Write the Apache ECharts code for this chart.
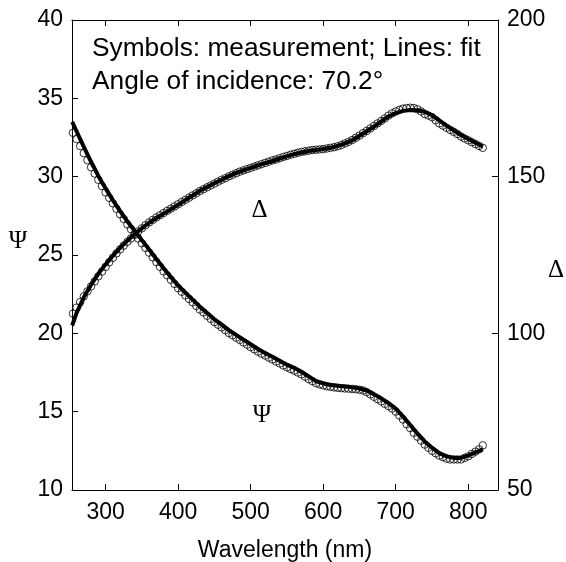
<!DOCTYPE html>
<html>
<head>
<meta charset="utf-8">
<script src="https://cdn.jsdelivr.net/npm/echarts@6/dist/echarts.min.js"></script>
<style>
html,body{margin:0;padding:0;background:#fff;}
#chart{width:566px;height:562px;}
</style>
</head>
<body>
<div id="chart"></div>
<script>
// Wavelengths (nm) for the fitted lines
var fitWavelength = [254,260,270,280,290,300,310,320,330,340,350,360,370,380,390,400,410,420,430,440,450,460,470,480,490,500,510,520,530,540,550,560,570,580,590,600,610,620,630,640,650,660,670,680,690,700,710,720,730,740,750,760,770,780,790,800,810,820];
// Psi fit (left axis, degrees)
var psiFit = [33.5,32.9,31.9,30.95,30.05,29.25,28.5,27.8,27.15,26.55,25.95,25.35,24.75,24.15,23.6,23.05,22.6,22.15,21.7,21.3,20.9,20.55,20.2,19.9,19.6,19.3,19.0,18.75,18.5,18.25,18.0,17.8,17.55,17.25,16.95,16.8,16.7,16.65,16.6,16.55,16.48,16.35,16.12,15.85,15.55,15.2,14.7,14.15,13.6,13.1,12.7,12.35,12.15,12.05,12.05,12.2,12.4,12.6];
// Delta fit (right axis, degrees)
var deltaFit = [102.5,106.5,111.5,115.5,119,122,124.8,127.3,129.6,131.6,133.5,135.3,136.8,138.2,139.6,141,142.5,144,145.5,146.7,147.9,149,150.2,151.2,152.0,152.8,153.6,154.3,155.0,155.8,156.5,157.2,157.7,158.2,158.5,158.8,159.2,159.8,160.6,161.6,163.0,164.5,166.0,167.6,169.2,170.3,171.0,171.3,171.2,170.7,169.6,168.0,166.3,164.8,163.3,162.0,160.8,159.6];

// Wavelengths (nm) of the measured points
var measWavelength = [255,260,265,270,275,280,285,290,295,300,305,310,315,320,325,330,335,340,345,350,355,360,365,370,375,380,385,390,395,400,405,410,415,420,425,430,435,440,445,450,455,460,465,470,475,480,485,490,495,500,505,510,515,520,525,530,535,540,545,550,555,560,565,570,575,580,585,590,595,600,605,610,615,620,625,630,635,640,645,650,655,660,665,670,675,680,685,690,695,700,705,710,715,720,725,730,735,740,745,750,755,760,765,770,775,780,785,790,795,800,805,810,815,820];
// Psi measured
var psiMeas = [32.8,32.4,31.95,31.5,31.05,30.6,30.2,29.8,29.4,29.0,28.65,28.3,27.95,27.6,27.3,26.95,26.65,26.35,26.05,25.75,25.45,25.15,24.85,24.55,24.25,23.95,23.7,23.42,23.15,22.88,22.65,22.42,22.2,21.98,21.75,21.52,21.33,21.12,20.92,20.72,20.55,20.38,20.2,20.02,19.88,19.72,19.58,19.42,19.28,19.12,18.98,18.83,18.7,18.58,18.45,18.33,18.2,18.08,17.95,17.83,17.72,17.62,17.5,17.38,17.23,17.08,16.95,16.82,16.75,16.68,16.62,16.58,16.55,16.52,16.5,16.48,16.47,16.45,16.43,16.4,16.35,16.25,16.1,15.95,15.8,15.65,15.5,15.35,15.2,15.0,14.75,14.5,14.2,13.95,13.65,13.4,13.15,12.9,12.7,12.5,12.35,12.2,12.1,12.0,11.95,11.95,11.95,11.95,12.05,12.15,12.3,12.45,12.6,12.85];
// Delta measured
var deltaMeas = [106.3,108.2,110.0,111.8,113.4,115.0,116.6,118.2,119.7,121.2,122.7,124.1,125.5,126.8,128.0,129.2,130.3,131.4,132.5,133.5,134.5,135.4,136.2,137.0,137.7,138.4,139.1,139.8,140.5,141.2,141.9,142.6,143.3,144.0,144.7,145.4,146.0,146.6,147.2,147.8,148.4,149.0,149.5,150.1,150.6,151.1,151.6,152.0,152.4,152.8,153.2,153.6,154.0,154.4,154.8,155.2,155.5,155.9,156.3,156.6,157.0,157.3,157.6,157.9,158.1,158.3,158.5,158.6,158.7,158.8,159.0,159.2,159.4,159.7,160.1,160.6,161.1,161.7,162.4,163.1,163.9,164.6,165.4,166.2,167.0,167.8,168.6,169.5,170.2,170.8,171.3,171.7,171.9,172.0,171.9,171.5,170.8,170.0,169.5,169.0,168.0,167.0,166.3,165.6,164.9,164.3,163.6,162.8,162.2,161.6,161.0,160.4,159.8,159.2];

var xTickValues = [300,400,500,600,700,800];
var noteLine1 = 'Symbols: measurement; Lines: fit';
var noteLine2 = 'Angle of incidence: 70.2\u00b0';

function pairs(xs, ys){ var out=[]; for(var i=0;i<xs.length;i++){ out.push([xs[i], ys[i]]); } return out; }

var chart = echarts.init(document.getElementById('chart'), null, {renderer:'canvas'});
var FONT = 'Liberation Sans, Arial, sans-serif';
var SERIF = 'Liberation Serif, Times New Roman, serif';
var axisCommon = {
  axisLine:{show:true, onZero:false, lineStyle:{color:'#000', width:1}},
  axisTick:{show:true, inside:true, length:6, lineStyle:{color:'#000', width:1}},
  splitLine:{show:false}
};
chart.setOption({
  animation:false,
  backgroundColor:'#fff',
  grid:{left:72, right:68, top:20, bottom:72, containLabel:false, outerBoundsMode:'none'},
  xAxis:[
    Object.assign({}, axisCommon, {
      type:'value', min:253.7, max:841, position:'bottom',
      axisTick:{show:true, inside:true, length:6, customValues:xTickValues, lineStyle:{color:'#000', width:1}},
      axisLabel:{show:true, customValues:xTickValues, fontFamily:FONT, fontSize:23, color:'#000', margin:11},
      name:'Wavelength (nm)', nameLocation:'middle', nameGap:49,
      nameTextStyle:{fontFamily:FONT, fontSize:23, color:'#000'}
    }),
    Object.assign({}, axisCommon, {
      type:'value', min:253.7, max:841, position:'top',
      axisTick:{show:true, inside:true, length:6, customValues:xTickValues, lineStyle:{color:'#000', width:1}},
      axisLabel:{show:false}
    })
  ],
  yAxis:[
    Object.assign({}, axisCommon, {
      type:'value', min:10, max:40, interval:5, position:'left',
      axisLabel:{fontFamily:FONT, fontSize:23, color:'#000', margin:9}
    }),
    Object.assign({}, axisCommon, {
      type:'value', min:50, max:200, interval:50, position:'right',
      axisLabel:{fontFamily:FONT, fontSize:23, color:'#000', margin:9}
    })
  ],
  series:[
    {type:'scatter', xAxisIndex:0, yAxisIndex:0, data:pairs(measWavelength, psiMeas), symbol:'circle', symbolSize:7.5,
     itemStyle:{color:'rgba(255,255,255,0)', borderColor:'#000', borderWidth:1}, z:2},
    {type:'scatter', xAxisIndex:0, yAxisIndex:1, data:pairs(measWavelength, deltaMeas), symbol:'circle', symbolSize:7.5,
     itemStyle:{color:'rgba(255,255,255,0)', borderColor:'#000', borderWidth:1}, z:2},
    {type:'line', xAxisIndex:0, yAxisIndex:0, data:pairs(fitWavelength, psiFit), showSymbol:false, symbol:'none',
     lineStyle:{color:'#000', width:4}, z:3},
    {type:'line', xAxisIndex:0, yAxisIndex:1, data:pairs(fitWavelength, deltaFit), showSymbol:false, symbol:'none',
     lineStyle:{color:'#000', width:4}, z:3}
  ],
  graphic:[
    {type:'text', left:92, top:36, style:{text:noteLine1, font:'26.3px '+FONT, fill:'#000'}},
    {type:'text', left:92, top:69, style:{text:noteLine2, font:'26.3px '+FONT, fill:'#000'}},
    {type:'text', x:18, y:241, style:{text:'\u03a8', font:'25px '+SERIF, fill:'#000', align:'center', verticalAlign:'middle'}},
    {type:'text', x:556, y:270, style:{text:'\u0394', font:'25px '+SERIF, fill:'#000', align:'center', verticalAlign:'middle'}},
    {type:'text', x:259.5, y:210.5, style:{text:'\u0394', font:'25px '+SERIF, fill:'#000', align:'center', verticalAlign:'middle'}},
    {type:'text', x:262, y:415.5, style:{text:'\u03a8', font:'25px '+SERIF, fill:'#000', align:'center', verticalAlign:'middle'}}
  ]
});
</script>
</body>
</html>
